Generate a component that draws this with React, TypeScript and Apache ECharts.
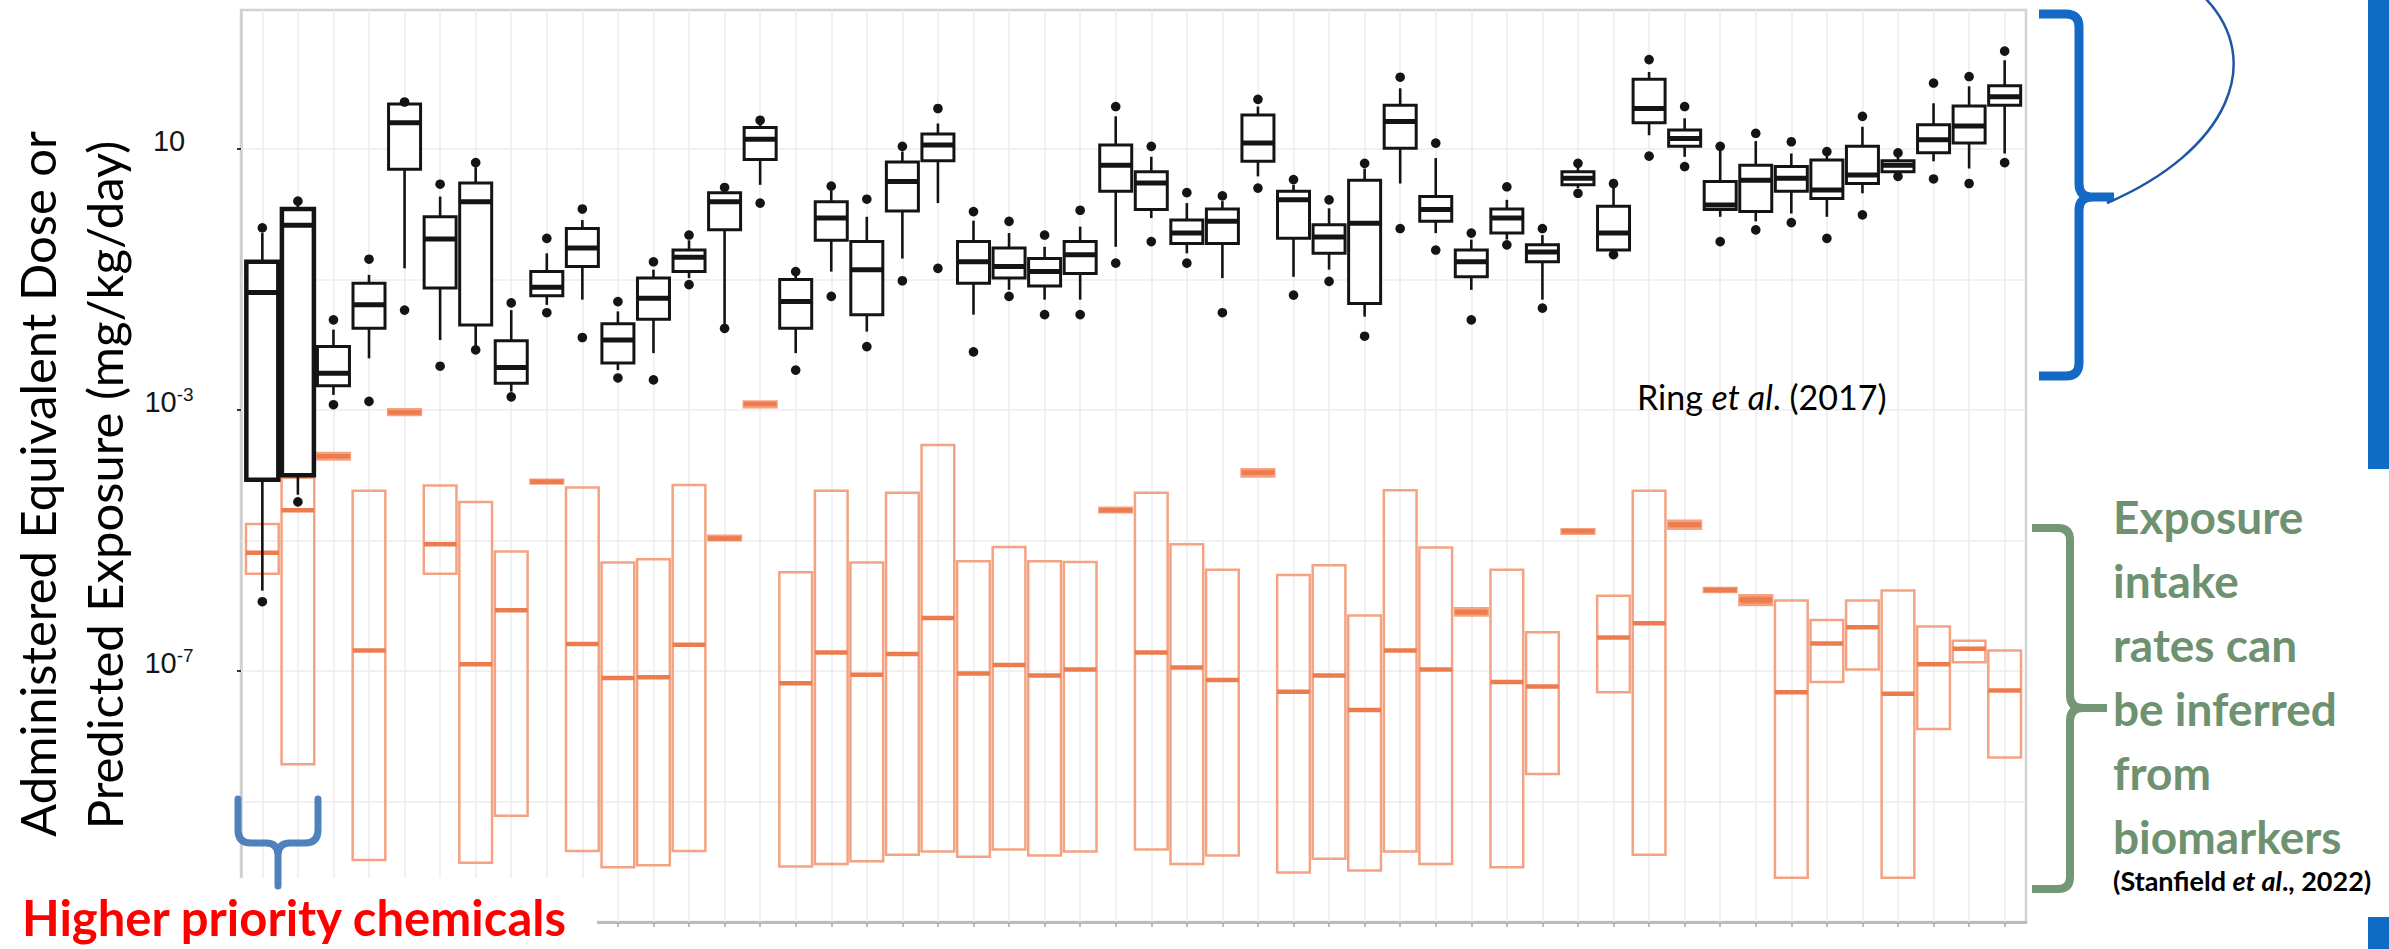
import React, { useEffect, useRef } from 'react';
import * as echarts from 'echarts';

// Chemicals in ranked order (left = higher priority)
const chemicalRank = [
  1, 2, 3, 4, 5, 6, 7, 8, 9, 10, 11, 12, 13, 14, 15, 16, 17, 18, 19, 20, 21, 22, 23, 24, 25,
  26, 27, 28, 29, 30, 31, 32, 33, 34, 35, 36, 37, 38, 39, 40, 41, 42, 43, 44, 45, 46, 47, 48, 49, 50,
];

// Administered equivalent dose, log10(mg/kg/day)
const doseWhiskerLow = [
  -5.77, -4.3, -2.77, -2.21, -0.83, -1.93, -2.03, -2.72, -1.39, -1.31, -2.39, -2.13, -0.98, -1.75, 0.45,
  -2.13, -0.88, -1.8, -0.68, 0.17, -1.54, -1.16, -1.31, -1.31, -0.5, -0.06, -0.6, -0.98, 0.58, -0.96,
  -0.85, -1.57, 0.47, -0.29, -1.16, -0.39, -1.31, 0.4, -0.58, 1.21, 0.88, -0.04, -0.11, 0.01, -0.04,
  0.32, 0.6, 0.81, 0.7, 0.93,
];
const doseQ1 = [
  -4.07, -4.0, -2.63, -1.75, 0.69, -1.13, -1.7, -2.59, -1.25, -0.8, -2.28, -1.61, -0.88, -0.24, 0.84,
  -1.75, -0.4, -1.54, 0.05, 0.82, -1.06, -0.98, -1.1, -0.91, 0.35, 0.07, -0.45, -0.45, 0.81, -0.37,
  -0.6, -1.37, 1.01, -0.11, -0.96, -0.29, -0.73, 0.45, -0.55, 1.4, 1.04, 0.07, 0.04, 0.35, 0.24,
  0.47, 0.65, 0.94, 1.09, 1.67,
];
const doseMedian = [
  -1.2, -0.17, -2.44, -1.39, 1.4, -0.38, 0.19, -2.35, -1.12, -0.52, -1.93, -1.29, -0.66, 0.19, 1.15,
  -1.34, -0.06, -0.85, 0.5, 1.06, -0.73, -0.8, -0.88, -0.62, 0.75, 0.48, -0.29, -0.11, 1.09, 0.22,
  -0.35, -0.14, 1.42, 0.07, -0.73, -0.06, -0.58, 0.55, -0.29, 1.62, 1.16, 0.14, 0.52, 0.55, 0.37,
  0.6, 0.75, 1.14, 1.35, 1.8,
];
const doseQ3 = [
  -0.73, 0.08, -2.03, -1.06, 1.69, -0.04, 0.48, -1.94, -0.88, -0.22, -1.68, -0.98, -0.55, 0.33, 1.33,
  -1.0, 0.19, -0.42, 0.8, 1.23, -0.42, -0.52, -0.68, -0.42, 1.06, 0.65, -0.09, 0.08, 1.52, 0.35,
  -0.16, 0.52, 1.67, 0.27, -0.55, 0.08, -0.47, 0.65, 0.12, 2.07, 1.29, 0.5, 0.75, 0.73, 0.83,
  1.04, 0.82, 1.37, 1.66, 1.97,
];
const doseWhiskerHigh = [
  -0.29, 0.17, -1.77, -0.93, 1.69, 0.27, 0.72, -1.47, -0.6, -0.09, -1.49, -0.85, -0.4, 0.38, 1.4,
  -0.92, 0.36, -0.04, 0.96, 1.39, -0.1, -0.29, -0.5, -0.19, 1.5, 0.88, 0.17, 0.2, 1.65, 0.45,
  0.09, 0.7, 1.93, 0.86, -0.39, 0.22, -0.32, 0.72, 0.44, 2.18, 1.47, 0.98, 1.12, 0.93, 0.92,
  1.34, 0.88, 1.7, 1.96, 2.36,
];
const doseOutlierLow = [
  -5.94, -4.41, -2.92, -2.87, -1.47, -2.33, -2.08, -2.8, -1.51, -1.89, -2.51, -2.54, -1.08, -1.75, 0.17,
  -2.39, -1.26, -2.03, -1.02, -0.83, -2.11, -1.26, -1.54, -1.54, -0.75, -0.42, -0.75, -1.51, 0.4, -1.24,
  -1.03, -1.87, -0.22, -0.55, -1.62, -0.47, -1.44, 0.32, -0.62, 0.89, 0.73, -0.42, -0.24, -0.13, -0.37,
  -0.01, 0.58, 0.54, 0.47, 0.79,
];
const doseOutlierHigh = [
  -0.21, 0.2, -1.62, -0.69, 1.72, 0.46, 0.79, -1.36, -0.37, 0.08, -1.34, -0.73, -0.32, 0.41, 1.44,
  -0.88, 0.43, 0.23, 1.04, 1.62, 0.04, -0.11, -0.32, 0.06, 1.65, 1.04, 0.33, 0.28, 1.76, 0.53,
  0.22, 0.78, 2.1, 1.09, -0.29, 0.42, -0.22, 0.78, 0.47, 2.37, 1.65, 1.04, 1.24, 1.11, 0.96,
  1.5, 0.94, 2.01, 2.11, 2.5,
];
// Chemicals whose dose boxes are drawn with a heavier outline
const heavyOutlineRanks = [1, 2];

// Predicted exposure, log10(mg/kg/day)
const exposureLow = [
  -5.51, -8.43, -3.76, -9.9, -3.08, -5.51, -9.94, -9.22, -4.13, -9.76, -10.01, -9.98, -9.76, -5.0, -2.96,
  -10.0, -9.96, -9.92, -9.82, -9.77, -9.85, -9.74, -9.83, -9.77, -4.57, -9.74, -9.96, -9.83, -4.02, -10.09,
  -9.88, -10.06, -9.77, -9.96, -6.15, -10.01, -8.58, -4.9, -7.33, -9.82, -4.82, -5.79, -5.99, -10.17, -7.17,
  -6.98, -10.17, -7.89, -6.87, -8.33,
];
const exposureMedian = [
  -5.19, -4.54, -3.71, -6.69, -3.04, -5.06, -6.9, -6.07, -4.1, -6.59, -7.11, -7.1, -6.6, -4.97, -2.91,
  -7.19, -6.72, -7.06, -6.74, -6.19, -7.04, -6.91, -7.07, -6.98, -4.54, -6.72, -6.95, -7.14, -3.96, -7.32,
  -7.07, -7.6, -6.69, -6.98, -6.1, -7.17, -7.24, -4.86, -6.49, -6.27, -4.76, -5.76, -5.91, -7.33, -6.58,
  -6.33, -7.35, -6.9, -6.66, -7.3,
];
const exposureHigh = [
  -4.75, -4.04, -3.66, -4.24, -2.99, -4.16, -4.41, -5.17, -4.07, -4.19, -5.34, -5.29, -4.15, -4.93, -2.87,
  -5.49, -4.24, -5.34, -4.27, -3.54, -5.32, -5.1, -5.32, -5.33, -4.5, -4.27, -5.06, -5.45, -3.91, -5.53,
  -5.38, -6.15, -4.23, -5.11, -6.04, -5.45, -6.41, -4.83, -5.85, -4.24, -4.7, -5.73, -5.84, -5.92, -6.22,
  -5.92, -5.77, -6.32, -6.54, -6.69,
];

// Axis decorations (log10 exponents)
const yLabelExponents = [-7, -3, 1];
const yGridExponents = [-9, -7, -5, -3, -1, 1];
const yRange = [-10.85, 3.13];
const xRange = [0.4, 50.6];

// Curly braces used as annotations
echarts.graphic.registerShape(
  'doseBrace',
  echarts.graphic.extendPath(
    'M2039,14 L2066,14 Q2079,14 2079,27 L2079,184 Q2079,197 2093,197 L2114,197 M2093,197 Q2079,197 2079,210 L2079,363 Q2079,376 2066,376 L2039,376',
    {}
  )
);
echarts.graphic.registerShape(
  'exposureBrace',
  echarts.graphic.extendPath(
    'M2032,528 L2058,528 Q2070,528 2070,540 L2070,695 Q2070,708 2083,708 L2107,708 M2083,708 Q2070,708 2070,721 L2070,877 Q2070,889 2058,889 L2032,889',
    {}
  )
);
echarts.graphic.registerShape(
  'priorityBrace',
  echarts.graphic.extendPath(
    'M238,799 L238,830 Q238,843 251,843 L266,843 Q278,843 278,855 L278,886 M278,855 Q278,843 290,843 L305,843 Q318,843 318,830 L318,799',
    {}
  )
);

const doseData = chemicalRank.map((r, i) => [
  r,
  doseWhiskerLow[i],
  doseQ1[i],
  doseMedian[i],
  doseQ3[i],
  doseWhiskerHigh[i],
  doseOutlierLow[i],
  doseOutlierHigh[i],
]);
const exposureData = chemicalRank.map((r, i) => [r, exposureLow[i], exposureMedian[i], exposureHigh[i]]);

const renderExposure = (params: any, api: any) => {
  const x = api.value(0);
  const lo = api.coord([x, api.value(1)]);
  const md = api.coord([x, api.value(2)]);
  const hi = api.coord([x, api.value(3)]);
  const w = api.size([1, 0])[0] * 0.92;
  const left = lo[0] - w / 2;
  const h = Math.max(lo[1] - hi[1], 1);
  const narrow = h < 12;
  return {
    type: 'group',
    children: [
      {
        type: 'rect',
        shape: { x: left, y: hi[1], width: w, height: h },
        style: { fill: narrow ? '#EF8859' : 'none', stroke: '#F3A282', lineWidth: 2.5 },
      },
      {
        type: 'line',
        shape: { x1: left, y1: md[1], x2: left + w, y2: md[1] },
        style: { stroke: '#EC7C4E', lineWidth: 4.5 },
      },
    ],
  };
};

const renderDose = (params: any, api: any) => {
  const x = api.value(0);
  const p = (k: number) => api.coord([x, api.value(k)]);
  const wl = p(1);
  const q1 = p(2);
  const md = p(3);
  const q3 = p(4);
  const wh = p(5);
  const ol = p(6);
  const oh = p(7);
  const w = api.size([1, 0])[0] * 0.9;
  const cx = q1[0];
  const left = cx - w / 2;
  const heavy = heavyOutlineRanks.indexOf(x) >= 0;
  const ink = '#141414';
  return {
    type: 'group',
    children: [
      { type: 'line', shape: { x1: cx, y1: q3[1], x2: cx, y2: wh[1] }, style: { stroke: ink, lineWidth: 2.6 } },
      { type: 'line', shape: { x1: cx, y1: q1[1], x2: cx, y2: wl[1] }, style: { stroke: ink, lineWidth: 2.6 } },
      {
        type: 'rect',
        shape: { x: left, y: q3[1], width: w, height: Math.max(q1[1] - q3[1], 1) },
        style: { fill: '#ffffff', stroke: ink, lineWidth: heavy ? 4.5 : 3 },
      },
      { type: 'line', shape: { x1: left, y1: md[1], x2: left + w, y2: md[1] }, style: { stroke: ink, lineWidth: 5 } },
      { type: 'circle', shape: { cx, cy: ol[1], r: 4.8 }, style: { fill: ink } },
      { type: 'circle', shape: { cx, cy: oh[1], r: 4.8 }, style: { fill: ink } },
    ],
  };
};

const gridLines = [
  ...chemicalRank.map((r) => ({ xAxis: r })),
  ...yGridExponents.map((e) => ({ yAxis: e })),
];

const option: any = {
  animation: false,
  backgroundColor: '#ffffff',
  grid: {
    left: 241,
    top: 10,
    width: 1785,
    height: 912,
    show: true,
    borderColor: '#d2d2d2',
    borderWidth: 2.5,
    backgroundColor: 'transparent',
  },
  xAxis: {
    type: 'value',
    min: xRange[0],
    max: xRange[1],
    axisLine: { show: true, onZero: false, lineStyle: { color: '#bcbcbc', width: 3 } },
    axisTick: { show: true, customValues: chemicalRank, length: 5, lineStyle: { color: '#a8a8a8', width: 1.5 } },
    axisLabel: { show: false },
    splitLine: { show: false },
  },
  yAxis: {
    type: 'value',
    min: yRange[0],
    max: yRange[1],
    axisLine: { show: true, onZero: false, lineStyle: { color: '#cfcfcf', width: 2.5 } },
    axisTick: { show: true, customValues: yLabelExponents, length: 4, lineStyle: { color: '#333', width: 2 } },
    axisLabel: {
      customValues: yLabelExponents,
      align: 'center',
      margin: 72,
      padding: [0, 0, 16, 0],
      formatter: (v: number) => {
        const e = Math.round(v);
        return e === 1 ? '{b|10}' : `{b|10}{s|${e}}`;
      },
      rich: {
        b: { fontSize: 29, fontFamily: 'Liberation Sans', color: '#151515', lineHeight: 34 },
        s: { fontSize: 19, fontFamily: 'Liberation Sans', color: '#151515', verticalAlign: 'top', lineHeight: 22 },
      },
    },
    splitLine: { show: false },
  },
  series: [
    {
      type: 'custom',
      name: 'Predicted exposure',
      z: 3,
      renderItem: renderExposure,
      encode: { x: 0, y: [1, 2, 3] },
      data: exposureData,
      markLine: {
        silent: true,
        z: 1,
        symbol: ['none', 'none'],
        label: { show: false },
        lineStyle: { color: '#ededed', width: 1.5, type: 'solid' },
        emphasis: { disabled: true },
        data: gridLines,
      },
    },
    {
      type: 'custom',
      name: 'Administered equivalent dose',
      z: 4,
      renderItem: renderDose,
      encode: { x: 0, y: [1, 2, 3, 4, 5] },
      data: doseData,
    },
  ],
  graphic: {
    elements: [
      // y-axis title
      {
        type: 'text',
        x: 37,
        y: 484,
        rotation: Math.PI / 2,
        style: {
          text: 'Administered Equivalent Dose or',
          font: '49px Lato',
          fill: '#000',
          align: 'center',
          verticalAlign: 'middle',
        },
      },
      {
        type: 'text',
        x: 104,
        y: 485,
        rotation: Math.PI / 2,
        style: {
          text: 'Predicted Exposure (mg/kg/day)',
          font: '49px Lato',
          fill: '#000',
          align: 'center',
          verticalAlign: 'middle',
        },
      },
      // source of the dose estimates
      {
        type: 'text',
        x: 1637,
        y: 396,
        z: 20,
        style: {
          text: '{n|Ring }{i|et al}{n|. (2017)}',
          align: 'left',
          verticalAlign: 'middle',
          rich: {
            n: { fontSize: 34, fontFamily: 'Lato', color: '#000' },
            i: { fontSize: 34, fontFamily: 'Lato', fontStyle: 'italic', color: '#000' },
          },
        },
      },
      // mask beneath the left part of the x axis
      {
        type: 'rect',
        z: 50,
        shape: { x: 0, y: 878, width: 597, height: 71 },
        style: { fill: '#ffffff' },
      },
      {
        type: 'priorityBrace',
        z: 60,
        style: { stroke: '#4F81BD', lineWidth: 7, fill: 'none', lineCap: 'round', lineJoin: 'round' },
      },
      {
        type: 'text',
        z: 60,
        x: 22,
        y: 917,
        style: {
          text: 'Higher priority chemicals',
          font: 'bold 49px Lato',
          fill: '#FF0000',
          align: 'left',
          verticalAlign: 'middle',
        },
      },
      // dose brace and connector
      {
        type: 'doseBrace',
        z: 60,
        style: { stroke: '#1369C4', lineWidth: 9, fill: 'none', lineJoin: 'round' },
      },
      {
        type: 'bezierCurve',
        z: 60,
        shape: { x1: 2107, y1: 203, cpx1: 2230, cpy1: 150, cpx2: 2265, cpy2: 60, x2: 2205, y2: -2 },
        style: { stroke: '#1E57A3', lineWidth: 2.5, fill: 'none' },
      },
      {
        type: 'rect',
        z: 60,
        shape: { x: 2368, y: 0, width: 21, height: 469 },
        style: { fill: '#0F6CC5' },
      },
      {
        type: 'rect',
        z: 60,
        shape: { x: 2368, y: 917, width: 21, height: 32 },
        style: { fill: '#0F6CC5' },
      },
      // exposure brace and note
      {
        type: 'exposureBrace',
        z: 60,
        style: { stroke: '#739774', lineWidth: 8, fill: 'none', lineJoin: 'round' },
      },
      {
        type: 'text',
        z: 60,
        x: 2113,
        y: 484,
        style: {
          text: 'Exposure\nintake\nrates can\nbe inferred\nfrom\nbiomarkers',
          font: 'bold 46px Lato',
          lineHeight: 64,
          fill: '#6E9170',
          align: 'left',
          verticalAlign: 'top',
        },
      },
      {
        type: 'text',
        z: 60,
        x: 2113,
        y: 880,
        style: {
          text: '{n|(Stanfield }{i|et al}{n|., 2022)}',
          align: 'left',
          verticalAlign: 'middle',
          rich: {
            n: { fontSize: 27, fontFamily: 'Lato', fontWeight: 'bold', color: '#6E9170' },
            i: { fontSize: 27, fontFamily: 'Lato', fontWeight: 'bold', fontStyle: 'italic', color: '#6E9170' },
          },
        },
      },
    ],
  },
};

export default function App() {
  const ref = useRef<HTMLDivElement>(null);
  useEffect(() => {
    document.body.style.margin = '0';
    const chart = echarts.init(ref.current as HTMLDivElement, null, { renderer: 'svg' });
    chart.setOption(option);
    return () => chart.dispose();
  }, []);
  return (
    <div
      ref={ref}
      style={{ position: 'fixed', left: 0, top: 0, width: 2389, height: 949, background: '#ffffff' }}
    />
  );
}
